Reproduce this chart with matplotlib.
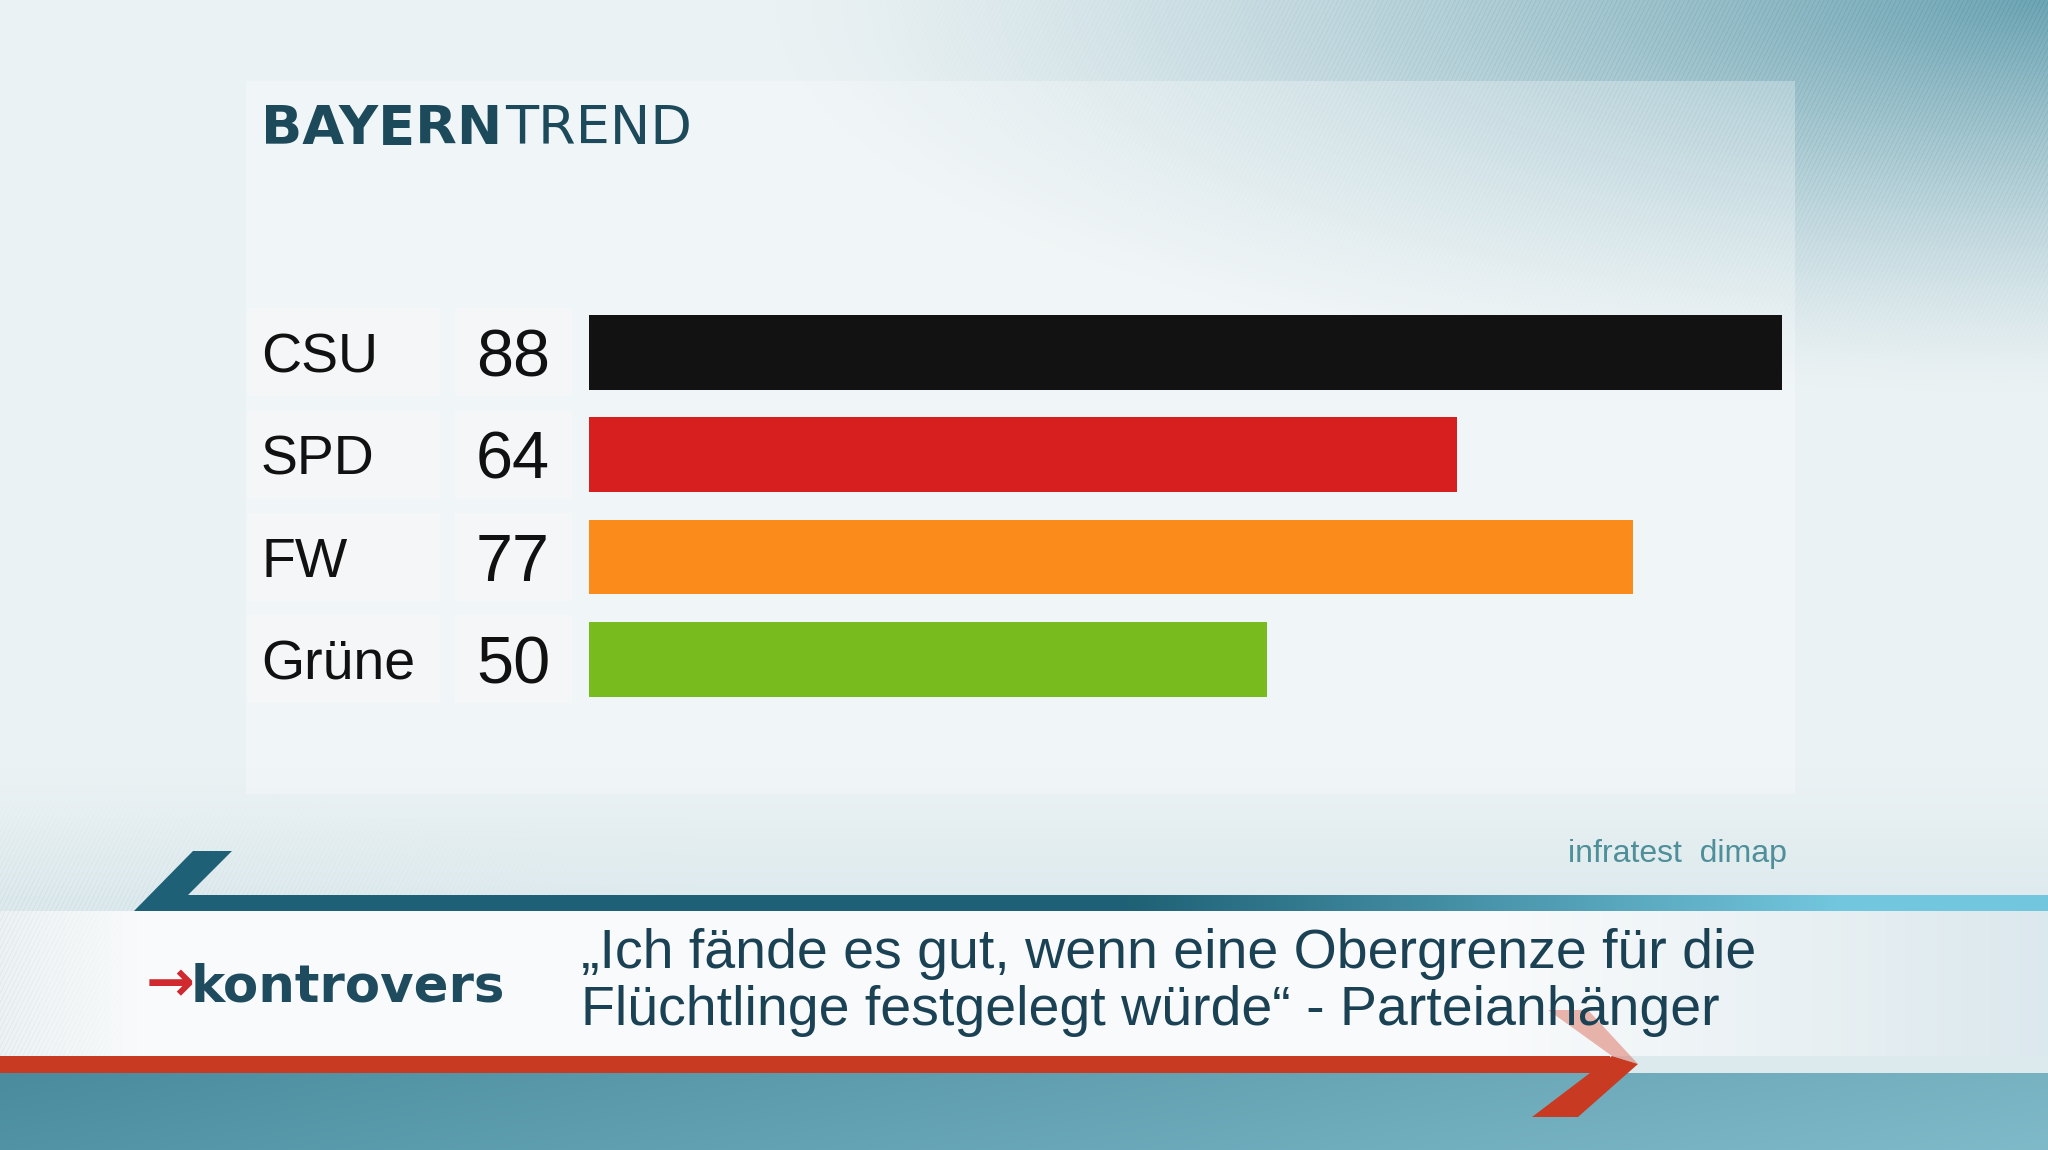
import numpy as np
import matplotlib
matplotlib.use('Agg')
import matplotlib.pyplot as plt
from matplotlib.patches import Rectangle, Polygon
from matplotlib.transforms import blended_transform_factory

# data
parties = ['CSU', 'SPD', 'FW', 'Grüne']
values = [88, 64, 77, 50]
bar_colors = ['#121212', '#d81f1f', '#fb8c1c', '#77bb1f']
title_bold = 'BAYERN'
title_thin = 'TREND'
source = 'infratest  dimap'
question = ['„Ich fände es gut, wenn eine Obergrenze für die',
            'Flüchtlinge festgelegt würde“ - Parteianhänger']

W, H = 2048, 1150
fig = plt.figure(figsize=(W / 100, H / 100), dpi=100)

#%% background (pixel coordinates)
bg = fig.add_axes([0, 0, 1, 1])
bg.set_xlim(0, W)
bg.set_ylim(H, 0)
bg.axis('off')

yy, xx = np.mgrid[0:H, 0:W].astype(float)
light = np.array([0.925, 0.951, 0.958])
teal = np.array([0.43, 0.65, 0.71])
d = np.hypot((W - xx) / 1300, yy / 400)
w = np.clip(1 - d, 0, 1) ** 1.3
img = light * (1 - w[..., None]) + teal * w[..., None]
stripes = (np.sin((2 * xx + yy) * 2 * np.pi / 9) > 0.4).astype(float)
img -= (stripes * 0.035 * np.clip(w * 2, 0, 1))[..., None]
# bluish zone below the panel, striped on the left
t = np.clip((yy - 760) / 140, 0, 1) * 0.45
img = img * (1 - t)[..., None] + np.array([0.80, 0.88, 0.90]) * t[..., None]
lw = np.clip(1 - xx / 700, 0, 1) * np.clip((yy - 780) / 120, 0, 1)
img -= (stripes * 0.03 * lw)[..., None]
# white banner
band = (yy >= 911) & (yy < 1056)
fade = np.clip((xx - 1500) / 548, 0, 1)
lfade = np.clip(1 - xx / 140, 0, 1)
white = np.array([0.975, 0.982, 0.985])
bluegray = np.array([0.86, 0.91, 0.93])
bcol = white * (1 - fade)[..., None] + bluegray * fade[..., None]
bcol = bcol * (1 - 0.35 * lfade)[..., None] + np.array([0.84, 0.89, 0.91]) * (0.35 * lfade)[..., None]
bcol -= (stripes * 0.03 * lfade)[..., None]
img[band] = bcol[band]
# bottom teal
bot = yy >= 1073
hx = np.clip(xx / W, 0, 1)
c1 = np.array([0.29, 0.55, 0.62])
c2 = np.array([0.47, 0.70, 0.76])
bcol2 = c1 * (1 - hx)[..., None] + c2 * hx[..., None]
bcol2 += (np.clip((yy - 1073) / 77, 0, 1) * 0.03)[..., None]
img[bot] = bcol2[bot]
bg.imshow(np.clip(img, 0, 1), extent=(0, W, H, 0), aspect='auto', zorder=0)

# panel
bg.add_patch(Rectangle((246, 81), 1549, 713, facecolor='white', alpha=0.28,
                       edgecolor='none', zorder=1))

# teal stripe with slanted left arm
grad = np.linspace(0, 1, 512)
tc1 = np.array([0.12, 0.38, 0.46])
tc2 = np.array([0.45, 0.78, 0.87])
gw = np.clip((grad - 0.55) / 0.35, 0, 1)
gimg = (tc1 * (1 - gw)[:, None] + tc2 * gw[:, None])[None, :, :]
tstripe = Polygon([(134, 911), (193, 851), (232, 851), (188, 895), (W, 895), (W, 911)],
                  closed=True, facecolor='none', edgecolor='none')
bg.add_patch(tstripe)
im = bg.imshow(gimg, extent=(0, W, 911, 851), aspect='auto', zorder=2)
im.set_clip_path(tstripe)

# red stripe with arrow head
bg.add_patch(Rectangle((0, 1056), 1610, 17, facecolor='#c83a22', edgecolor='none', zorder=2))
bg.add_patch(Polygon([(1532, 1117), (1578, 1117), (1638, 1064), (1612, 1056), (1590, 1073)],
                     closed=True, facecolor='#c83a22', edgecolor='none', zorder=2))
bg.add_patch(Polygon([(1548, 1010), (1588, 1010), (1638, 1064), (1612, 1056)],
                     closed=True, facecolor='#d8604c', alpha=0.45, edgecolor='none', zorder=2))

# title
ttl = bg.text(261, 144, title_bold, fontsize=39, fontweight='bold', family='DejaVu Sans',
              color='#1c4a5b', va='baseline', ha='left', zorder=3)
bg.annotate(title_thin, xy=(1, 0), xycoords=ttl, xytext=(2, 0), textcoords='offset points',
            fontsize=39, family='DejaVu Sans', color='#1c4a5b', va='bottom', ha='left', zorder=3)

# source
bg.text(1787, 862, source, fontsize=23, family='Liberation Sans', color='#4e8f99',
        ha='right', va='baseline', zorder=3)

# logo
arr = bg.text(146, 1001, '→', fontsize=42, fontweight='bold', family='DejaVu Sans',
              color='#cf2a30', ha='left', va='baseline', zorder=3)
bg.annotate('kontrovers', xy=(1, 0), xycoords=arr, xytext=(-3, 0), textcoords='offset points',
            fontsize=37, fontweight='bold', family='DejaVu Sans', color='#1e4c5e',
            va='bottom', ha='left', zorder=3)

# question text
for i, line in enumerate(question):
    bg.text(581, 968 + 57 * i, line, fontsize=40, family='Liberation Sans',
            color='#1b4254', ha='left', va='baseline', zorder=3)

#%% bars: x=0 at px 589, 13.56 px per percent; rows centred at 352..659 px
x0, ppu = 589, 13.56
top, pitch = 301, 102.4
ax = fig.add_axes([x0 / W, 1 - (top + 4 * pitch) / H, 100 * ppu / W, 4 * pitch / H])
ax.set_xlim(0, 100)
ax.set_ylim(3.5, -0.5)
ax.axis('off')
ypos = np.arange(len(parties))
ax.barh(ypos, values, height=0.73, color=bar_colors, edgecolor='none', zorder=3)

tr = blended_transform_factory(bg.transData, ax.transData)
for i, (p, v) in enumerate(zip(parties, values)):
    ax.add_patch(Rectangle((247, i - 0.43), 193, 0.86, transform=tr, facecolor='#f6f7f7',
                           alpha=0.85, edgecolor='none', clip_on=False, zorder=1))
    ax.add_patch(Rectangle((455, i - 0.43), 117, 0.86, transform=tr, facecolor='#f6f7f7',
                           alpha=0.85, edgecolor='none', clip_on=False, zorder=1))
    ax.text(261, i, p, transform=tr, fontsize=40, family='Liberation Sans', color='#111111',
            ha='left', va='center_baseline', clip_on=False, zorder=4)
    ax.text(513, i, str(v), transform=tr, fontsize=48, family='Liberation Sans', color='#111111',
            ha='center', va='center_baseline', clip_on=False, zorder=4)

fig.savefig('out.png', dpi=100)
